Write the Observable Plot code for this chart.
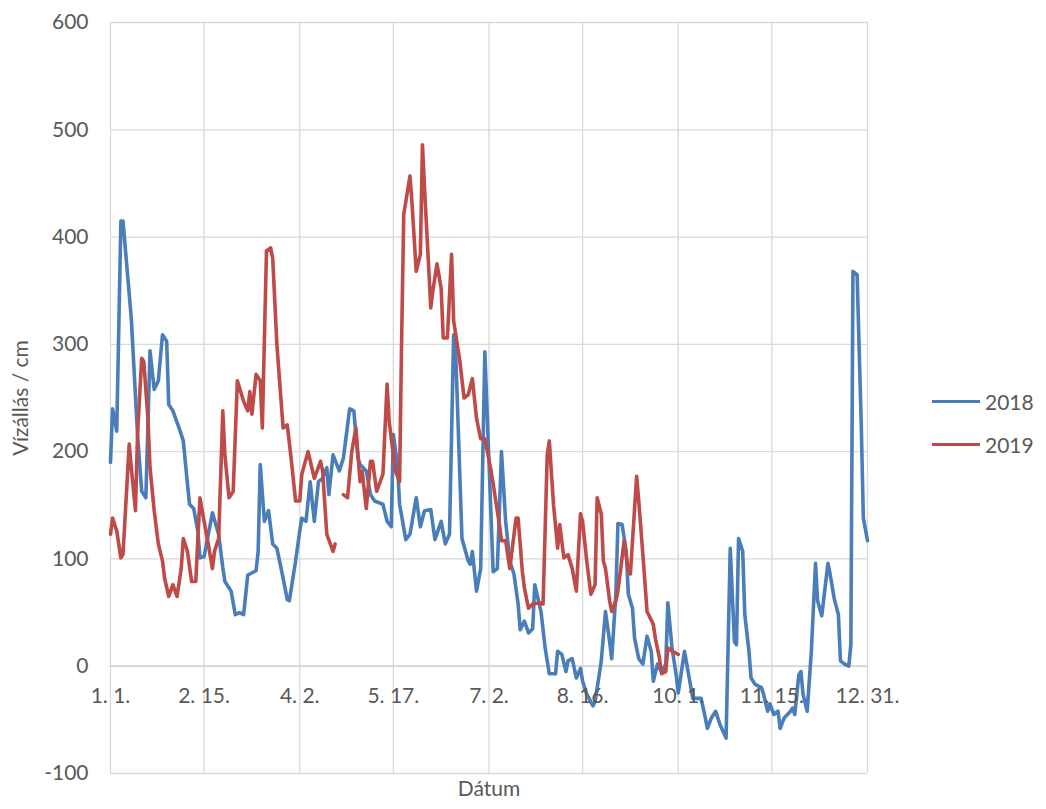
<!DOCTYPE html>
<html>
<head>
<meta charset="utf-8">
<script src="https://cdn.jsdelivr.net/npm/d3@7"></script>
<script src="https://cdn.jsdelivr.net/npm/@observablehq/plot@0.6"></script>
<style>
  html, body { margin: 0; padding: 0; background: #fff; }
  #wrap { position: relative; width: 1046px; height: 809px; font-family: Lato, "Open Sans", sans-serif; color: #595959; }
  #legend { position: absolute; left: 932px; top: 380px; font-size: 21px; line-height: 43px; }
  .item { display: flex; align-items: center; }
  .swatch { width: 48px; height: 3.5px; margin-right: 5px; }
</style>
</head>
<body>
<div id="wrap"><div id="legend"></div></div>
<script>
// Day-of-year (0 = Jan 1) and water level in cm
const days2018 = [0,1,3,5,6,10,13,15,17,19,21,23,25,27,28,30,33,35,37,38,40,42,43,45,49,52,54,55,58,60,62,64,66,70,71,72,74,76,78,80,83,85,86,89,91,92,94,96,98,100,102,104,105,107,110,112,115,117,119,120,123,125,127,131,133,135,136,138,139,142,144,147,149,151,154,156,159,161,163,165,166,169,172,173,174,176,178,180,182,184,186,188,190,192,194,196,197,199,201,203,204,207,209,211,214,215,217,219,220,222,224,226,227,229,232,233,235,236,238,240,241,243,244,246,248,249,251,252,254,256,258,260,261,263,265,267,268,270,272,273,276,278,280,284,286,287,289,291,293,296,298,300,301,302,304,305,307,308,310,313,314,316,317,319,321,322,324,327,328,329,331,332,333,335,337,339,340,342,345,346,348,350,351,353,355,356,357,359,361,362,364];
const level2018 = [190,240,219,415,415,324,216,163,157,294,258,266,309,303,244,238,222,210,170,151,147,126,101,102,143,123,92,79,70,48,50,48,85,89,107,188,135,145,114,110,82,62,61,98,126,138,135,172,135,172,175,185,160,197,182,194,240,238,194,188,182,160,154,151,135,130,216,188,151,118,123,157,130,145,146,118,135,114,123,309,291,119,98,95,107,70,91,293,190,88,91,200,135,98,86,58,34,42,31,35,76,51,17,-7,-7,14,11,-5,5,7,-11,-2,-14,-26,-37,-33,-8,5,51,23,7,67,133,132,107,67,54,26,7,2,28,14,-14,2,-5,2,59,17,-8,-25,14,-8,-30,-30,-48,-58,-48,-42,-54,-67,110,23,20,119,107,48,14,-11,-17,-20,-26,-42,-35,-45,-42,-58,-48,-42,-39,-45,-8,-5,-26,-42,14,96,61,47,96,86,63,48,5,2,0,20,368,365,225,138,117];

const days2019 = [0,1,3,5,6,9,10,12,13,15,16,18,19,21,23,25,26,28,30,32,34,35,37,39,41,43,45,47,49,50,52,54,55,57,59,61,64,66,67,68,70,72,73,75,77,78,80,83,85,87,89,91,92,95,98,101,102,104,107,108,110,112,114,116,118,120,121,123,125,126,128,131,133,134,137,139,140,141,144,145,147,149,150,151,154,155,157,159,160,162,164,165,168,170,172,174,176,178,180,183,184,187,188,190,192,195,196,198,199,201,203,206,208,210,211,213,215,216,218,220,222,224,226,227,229,231,233,234,236,237,238,240,241,243,244,247,249,250,252,253,254,256,258,261,262,264,265,267,268,270,273];
const level2019 = [123,138,126,101,104,207,185,145,216,287,284,231,185,145,114,98,82,65,76,65,91,119,107,79,79,157,135,114,91,107,119,238,197,157,163,266,247,238,256,235,272,266,222,387,390,380,300,222,225,191,154,154,179,200,175,191,182,123,107,114,null,160,157,200,222,172,182,147,191,191,163,179,263,228,182,172,306,421,457,431,368,384,486,446,334,350,375,352,306,306,384,322,284,250,253,268,231,212,212,182,170,132,117,117,91,138,138,89,73,54,58,59,58,197,210,151,110,132,101,104,91,70,142,135,98,67,76,157,142,98,91,61,51,61,70,117,89,86,147,177,154,104,51,39,26,7,-7,-5,17,14,11];

const seriesNames = ["2018", "2019"];
const seriesColors = ["#4a7ebb", "#be4b48"];

const xTickDays = [0, 45, 91, 136, 182, 227, 273, 318, 364];
const xTickLabels = ["1. 1.", "2. 15.", "4. 2.", "5. 17.", "7. 2.", "8. 16.", "10. 1.", "11. 15.", "12. 31."];
const yTicks = [-100, 0, 100, 200, 300, 400, 500, 600];

const data = [
  ...days2018.map((d, i) => ({day: d, level: level2018[i], year: seriesNames[0]})),
  ...days2019.map((d, i) => ({day: d, level: level2019[i], year: seriesNames[1]}))
];
const xTicks = xTickDays.map((d, i) => ({day: d, label: xTickLabels[i]}));

const chart = Plot.plot({
  width: 1046,
  height: 809,
  marginLeft: 110,
  marginRight: 179,
  marginTop: 22,
  marginBottom: 36,
  style: {fontFamily: "Lato, 'Open Sans', sans-serif", color: "#595959", background: "transparent"},
  x: {domain: [0, 364], axis: null},
  y: {domain: [-100, 600]},
  color: {domain: seriesNames, range: seriesColors},
  marks: [
    Plot.gridY(yTicks, {stroke: "#d9d9d9", strokeOpacity: 1, strokeWidth: 1.3}),
    Plot.gridX(xTickDays, {stroke: "#d9d9d9", strokeOpacity: 1, strokeWidth: 1.3}),
    Plot.ruleY([0], {stroke: "#cfcfcf", strokeWidth: 1.3}),
    Plot.line(data, {x: "day", y: "level", z: "year", stroke: "year", strokeWidth: 3.6, strokeLinejoin: "round"}),
    Plot.text(xTicks, {x: "day", y: () => 0, text: "label", dy: 30, fontSize: 21, fill: "#595959"}),
    Plot.axisY(yTicks, {tickSize: 0, tickPadding: 22, fontSize: 21, tickFormat: (d) => String(d), label: "Vízállás / cm", labelAnchor: "center", labelOffset: 97, labelArrow: "none"}),
    Plot.text(["Dátum"], {frameAnchor: "bottom", dy: 22, fontSize: 21, fill: "#595959"})
  ]
});
const wrap = document.getElementById("wrap");
wrap.insertBefore(chart, wrap.firstChild);

const legend = document.getElementById("legend");
seriesNames.forEach((name, i) => {
  const item = document.createElement("div");
  item.className = "item";
  const sw = document.createElement("span");
  sw.className = "swatch";
  sw.style.background = seriesColors[i];
  const t = document.createElement("span");
  t.textContent = name;
  item.appendChild(sw);
  item.appendChild(t);
  legend.appendChild(item);
});
</script>
</body>
</html>
